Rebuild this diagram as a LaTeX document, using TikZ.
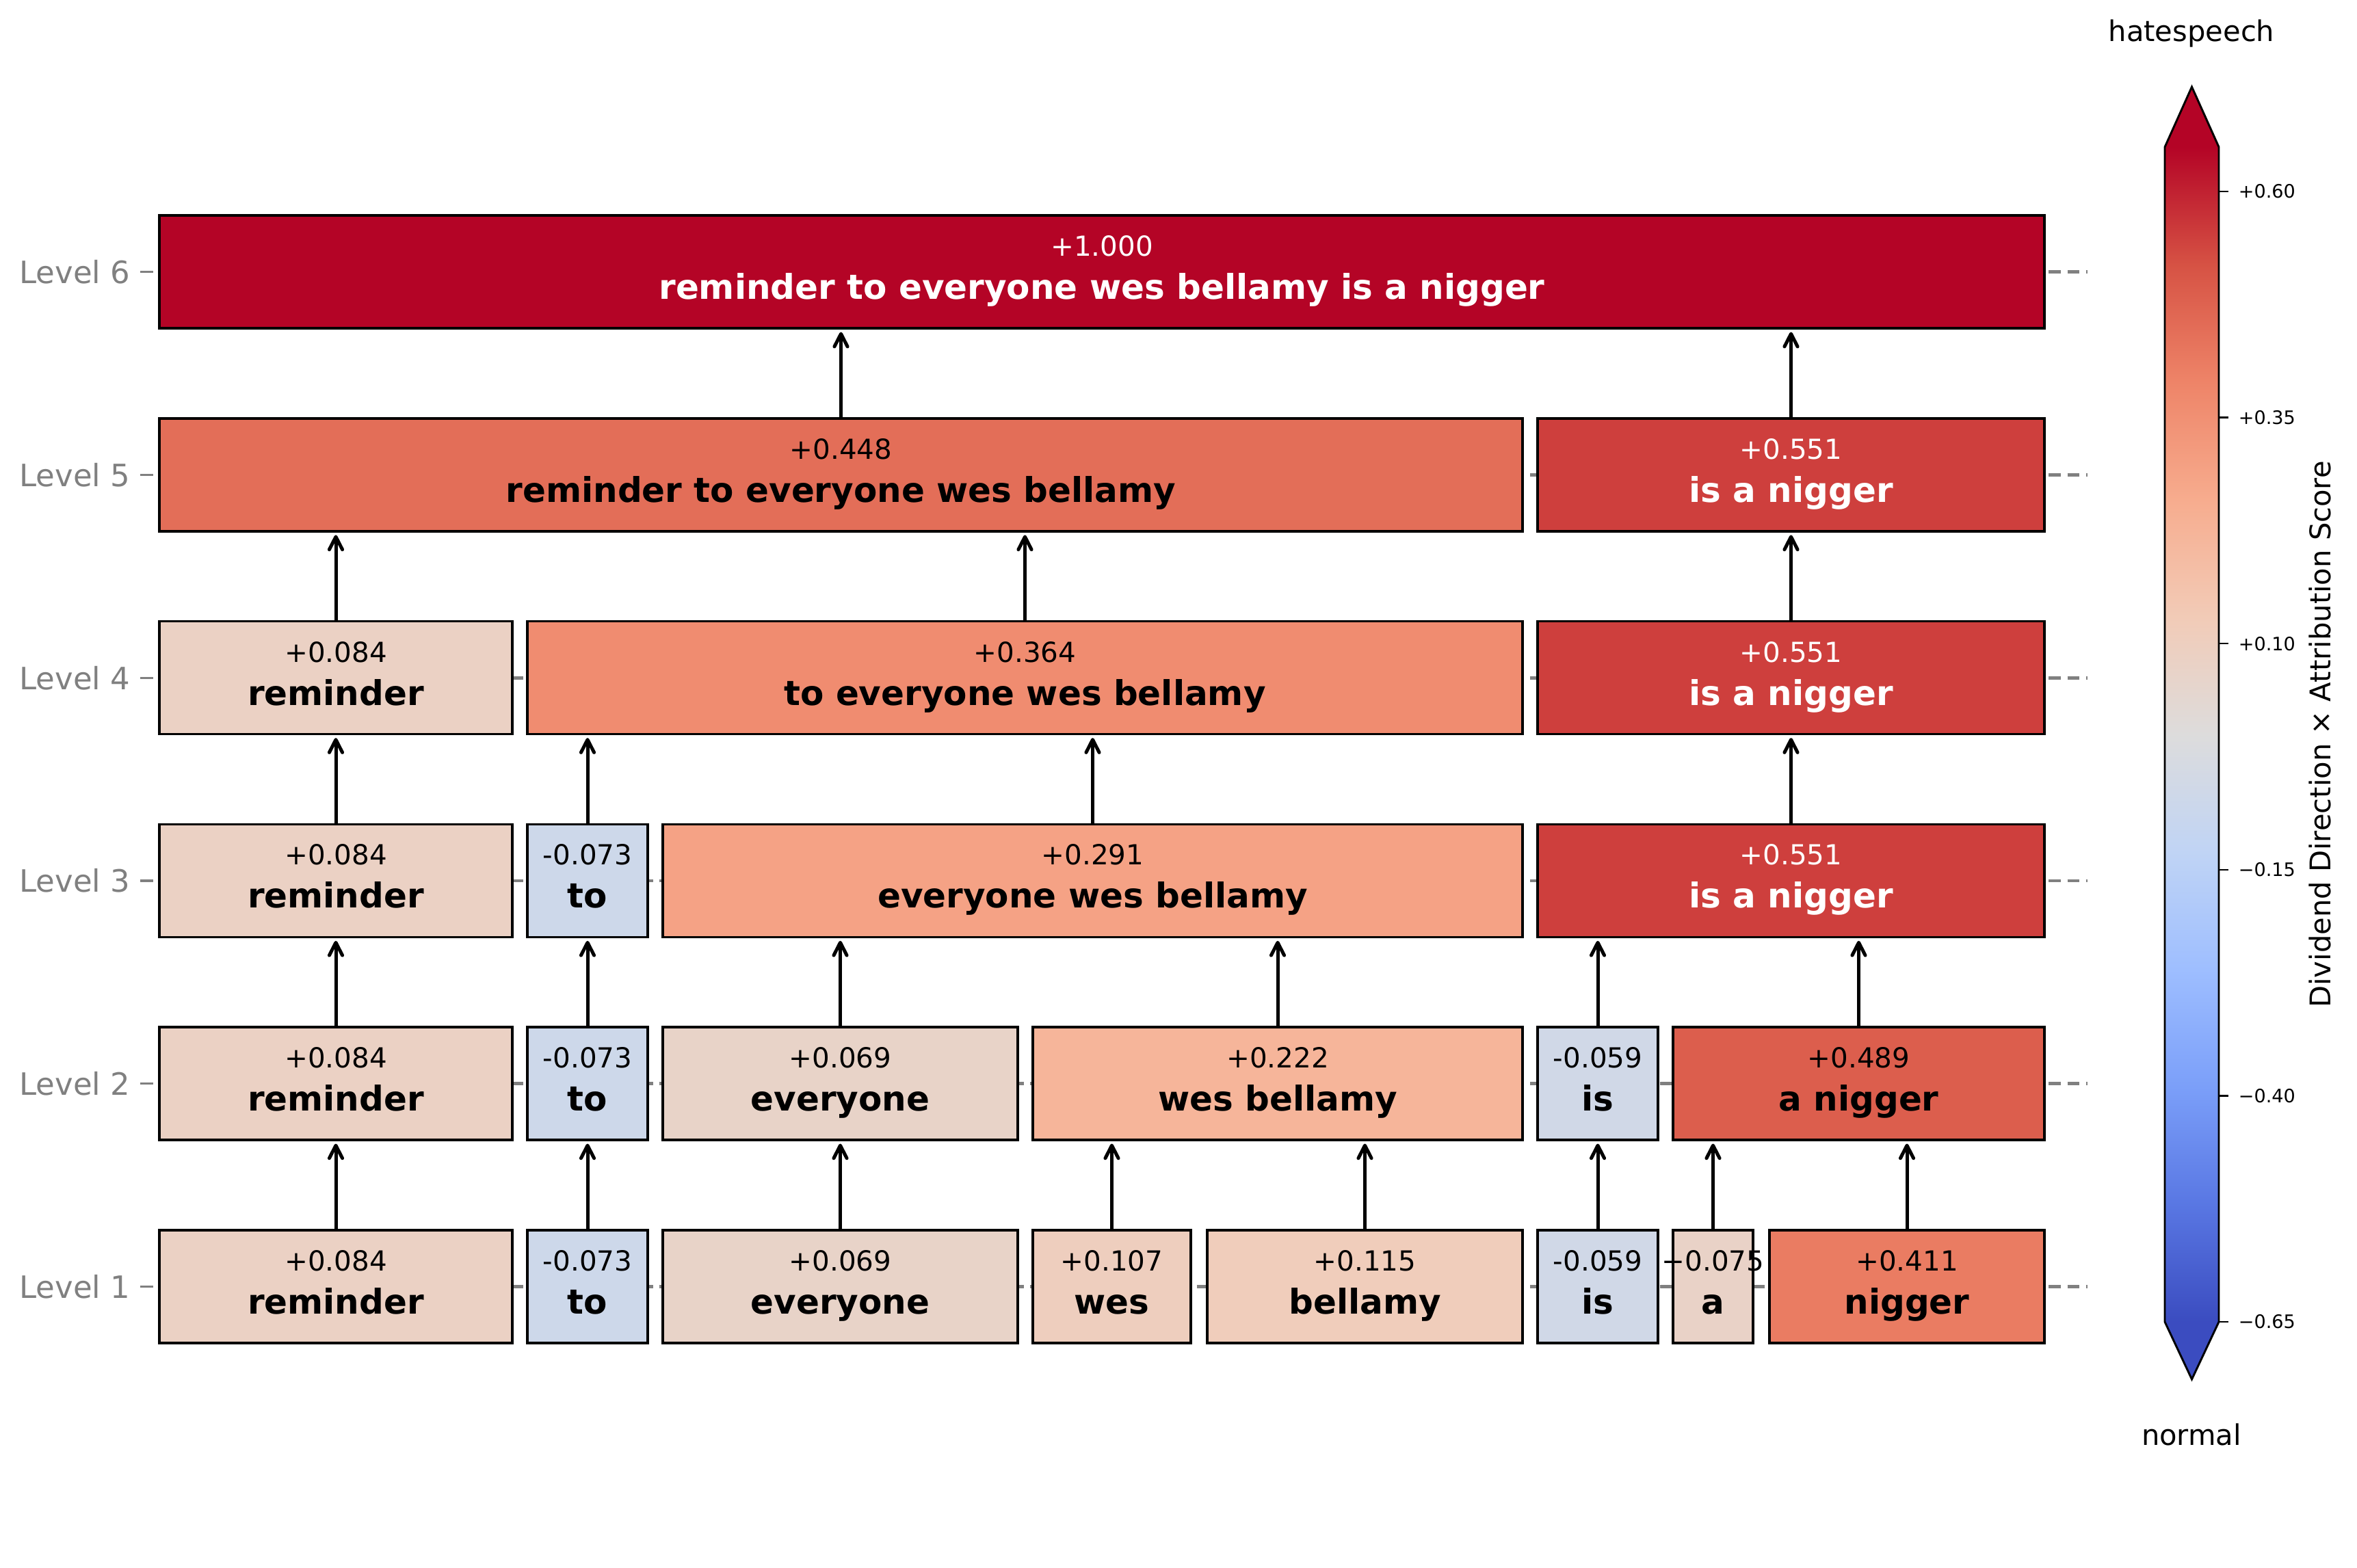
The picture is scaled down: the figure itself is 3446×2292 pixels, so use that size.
\documentclass[tikz,border=0pt]{standalone}
\usepackage{fontspec}
\setmainfont{DejaVu Sans}
\usetikzlibrary{arrows.meta}
\definecolor{midgray}{RGB}{128,128,128}
\definecolor{c084}{RGB}{235,209,196}
\definecolor{cm073}{RGB}{205,216,234}
\definecolor{c069}{RGB}{232,211,200}
\definecolor{c107}{RGB}{238,206,190}
\definecolor{c115}{RGB}{240,205,187}
\definecolor{cm059}{RGB}{208,216,231}
\definecolor{c075}{RGB}{233,210,199}
\definecolor{c411}{RGB}{234,124,98}
\definecolor{c222}{RGB}{246,181,154}
\definecolor{c489}{RGB}{220,94,77}
\definecolor{c291}{RGB}{245,162,133}
\definecolor{c364}{RGB}{240,140,112}
\definecolor{c448}{RGB}{227,110,88}
\definecolor{c551}{RGB}{206,63,61}
\definecolor{c1000}{RGB}{180,4,38}
\definecolor{cwa}{RGB}{59,76,192}
\definecolor{cwb}{RGB}{89,119,227}
\definecolor{cwc}{RGB}{123,159,249}
\definecolor{cwd}{RGB}{158,190,255}
\definecolor{cwe}{RGB}{192,212,245}
\definecolor{cwf}{RGB}{221,220,220}
\definecolor{cwg}{RGB}{242,203,183}
\definecolor{cwh}{RGB}{247,172,142}
\definecolor{cwi}{RGB}{238,132,104}
\definecolor{cwj}{RGB}{214,82,68}
\definecolor{cwk}{RGB}{180,4,38}
\newcommand{\tokbox}[8]{%
  \node[tokbox, fill=#5, minimum width={(#3-#2)*0.24pt}] (#1) at ({(#2+#3)/2},#4) {};
  \node[valtext, text=#6, anchor=base] (#1v) at ([yshift=5.52pt]#1.center) {#7};
  \node[wordtext, text=#6, anchor=base] (#1w) at ([yshift=-9.6pt]#1.center) {#8};
}
\begin{document}
\begin{tikzpicture}[x=0.24pt,y=-0.24pt,
 tokbox/.style={draw=black, line width=0.85pt, minimum height=39.6pt, inner sep=0pt, outer sep=0pt},
 valtext/.style={font=\fontsize{9.7}{11}\selectfont, inner sep=0pt},
 wordtext/.style={font=\fontsize{12}{14}\selectfont\bfseries, inner sep=0pt},
 lvl/.style={font=\fontsize{10.8}{12}\selectfont, text=midgray, inner sep=0pt},
 lvltick/.style={draw=midgray, line width=0.8pt},
 cbtick/.style={draw=black, line width=0.6pt},
 cblab/.style={font=\fontsize{6.5}{8}\selectfont, inner sep=0pt, anchor=west},
 cbtitle/.style={font=\fontsize{10}{12}\selectfont, inner sep=0pt},
 arr/.style={line width=1.2pt, -{Straight Barb[length=4.5pt,width=4.6pt,round]}, shorten >=1.3pt},
 gridline/.style={line width=1.1pt, draw=midgray, dash pattern=on 4.3pt off 2.2pt},
]
\useasboundingbox (0,0) rectangle (3446,2292);
\fill[white] (0,0) rectangle (3446,2292);
% level guide lines
\foreach \yy in {397.7,694.5,991.2,1287.9,1584.6,1881.3} {
  \draw[gridline] (233,\yy) -- (3052,\yy);
  \draw[lvltick] (205,\yy) -- (224,\yy);
}
\node[lvl, anchor=east] (lab6) at (191,397.7) {Level 6};
\node[lvl, anchor=east] (lab5) at (191,694.5) {Level 5};
\node[lvl, anchor=east] (lab4) at (191,991.2) {Level 4};
\node[lvl, anchor=east] (lab3) at (191,1287.9) {Level 3};
\node[lvl, anchor=east] (lab2) at (191,1584.6) {Level 2};
\node[lvl, anchor=east] (lab1) at (191,1881.3) {Level 1};
% Level 1
\tokbox{ra}{233}{749}{1881.3}{c084}{black}{+0.084}{reminder}
\tokbox{ta}{771}{947}{1881.3}{cm073}{black}{-0.073}{to}
\tokbox{ea}{969}{1488}{1881.3}{c069}{black}{+0.069}{everyone}
\tokbox{wa}{1510}{1741}{1881.3}{c107}{black}{+0.107}{wes}
\tokbox{ba}{1765}{2226}{1881.3}{c115}{black}{+0.115}{bellamy}
\tokbox{ia}{2248}{2424}{1881.3}{cm059}{black}{-0.059}{is}
\tokbox{aa}{2446}{2563}{1881.3}{c075}{black}{+0.075}{a}
\tokbox{na}{2587}{2989}{1881.3}{c411}{black}{+0.411}{nigger}
% Level 2
\tokbox{rb}{233}{749}{1584.6}{c084}{black}{+0.084}{reminder}
\tokbox{tb}{771}{947}{1584.6}{cm073}{black}{-0.073}{to}
\tokbox{eb}{969}{1488}{1584.6}{c069}{black}{+0.069}{everyone}
\tokbox{wbb}{1510}{2226}{1584.6}{c222}{black}{+0.222}{wes bellamy}
\tokbox{ib}{2248}{2424}{1584.6}{cm059}{black}{-0.059}{is}
\tokbox{anb}{2446}{2989}{1584.6}{c489}{black}{+0.489}{a nigger}
% Level 3
\tokbox{rc}{233}{749}{1287.9}{c084}{black}{+0.084}{reminder}
\tokbox{tc}{771}{947}{1287.9}{cm073}{black}{-0.073}{to}
\tokbox{ewbc}{969}{2226}{1287.9}{c291}{black}{+0.291}{everyone wes bellamy}
\tokbox{ianc}{2248}{2989}{1287.9}{c551}{white}{+0.551}{is a nigger}
% Level 4
\tokbox{rd}{233}{749}{991.2}{c084}{black}{+0.084}{reminder}
\tokbox{tewbd}{771}{2226}{991.2}{c364}{black}{+0.364}{to everyone wes bellamy}
\tokbox{iand}{2248}{2989}{991.2}{c551}{white}{+0.551}{is a nigger}
% Level 5
\tokbox{rtewbe}{233}{2226}{694.5}{c448}{black}{+0.448}{reminder to everyone wes bellamy}
\tokbox{iane}{2248}{2989}{694.5}{c551}{white}{+0.551}{is a nigger}
% Level 6
\tokbox{allf}{233}{2989}{397.7}{c1000}{white}{+1.000}{reminder to everyone wes bellamy is a nigger}
% arrows
\foreach \c/\p in {ra/rb, ta/tb, ea/eb, wa/wbb, ba/wbb, ia/ib, aa/anb, na/anb,
  rb/rc, tb/tc, eb/ewbc, wbb/ewbc, ib/ianc, anb/ianc,
  rc/rd, tc/tewbd, ewbc/tewbd, ianc/iand,
  rd/rtewbe, tewbd/rtewbe, iand/iane,
  rtewbe/allf, iane/allf} {
  \draw[arr] (\c.north) -- (\c.north |- \p.south);
}
% colorbar
\shade[bottom color=cwa, top color=cwb] (3165,1933) rectangle (3244,1761.2);
\shade[bottom color=cwb, top color=cwc] (3165,1761.4) rectangle (3244,1589.4);
\shade[bottom color=cwc, top color=cwd] (3165,1589.6) rectangle (3244,1417.6);
\shade[bottom color=cwd, top color=cwe] (3165,1417.8) rectangle (3244,1245.8);
\shade[bottom color=cwe, top color=cwf] (3165,1246.0) rectangle (3244,1074.0);
\shade[bottom color=cwf, top color=cwg] (3165,1074.2) rectangle (3244,902.2);
\shade[bottom color=cwg, top color=cwh] (3165,902.4) rectangle (3244,730.4);
\shade[bottom color=cwh, top color=cwi] (3165,730.6) rectangle (3244,558.6);
\shade[bottom color=cwi, top color=cwj] (3165,558.8) rectangle (3244,386.8);
\shade[bottom color=cwj, top color=cwk] (3165,387.0) rectangle (3244,215);
\fill[cwk] (3165,215.5) -- (3204.5,127) -- (3244,215.5) -- cycle;
\fill[cwa] (3165,1932.5) -- (3204.5,2017) -- (3244,1932.5) -- cycle;
\draw[black, line width=0.7pt, line join=miter] (3165,215) -- (3204.5,127) -- (3244,215) -- (3244,1933) -- (3204.5,2017) -- (3165,1933) -- cycle;
\foreach \yy/\lab [count=\k] in {1933/{−0.65},1602.4/{−0.40},1271.8/{−0.15},941.2/{+0.10},610.6/{+0.35},280/{+0.60}} {
  \draw[cbtick] (3244,\yy) -- (3258,\yy);
  \node[cblab] (cbl\k) at (3272,\yy) {\lab};
}
\node[cbtitle, anchor=base] (hate) at (3204,60) {hatespeech};
\node[cbtitle, anchor=base] (norm) at (3204,2113) {normal};
\node[cbtitle, rotate=90] (cbname) at (3392,1074) {Dividend Direction × Attribution Score};
\end{tikzpicture}
\end{document}
